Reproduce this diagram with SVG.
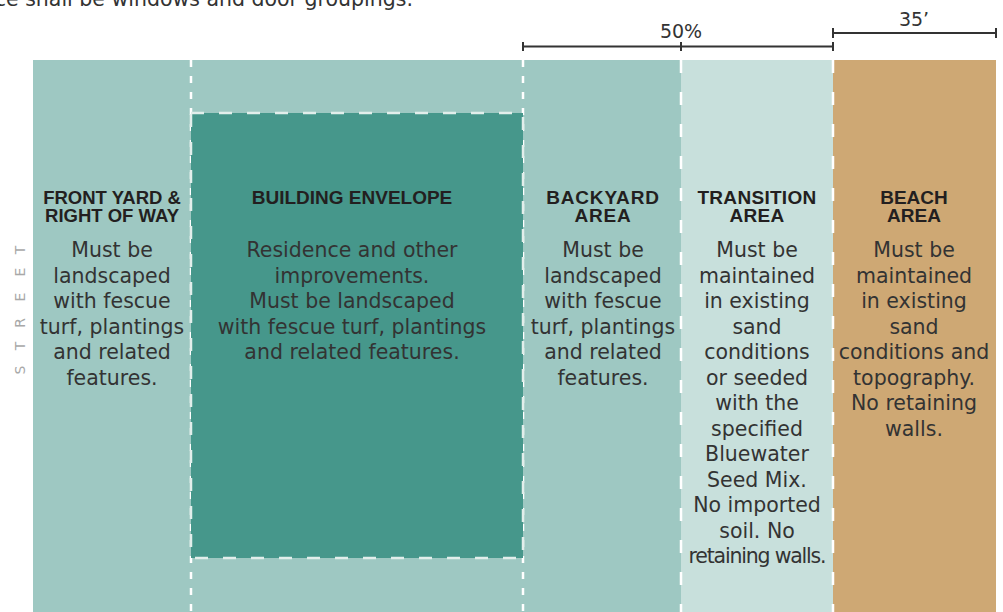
<svg xmlns="http://www.w3.org/2000/svg" width="1003" height="612" viewBox="0 0 1003 612">
<style>
.body{font-family:"DejaVu Sans",sans-serif;font-size:20.5px;fill:#333;text-anchor:middle}
.head{font-family:"Liberation Sans",Arial,sans-serif;font-weight:bold;font-size:19px;fill:#231f20;text-anchor:middle}
.dim{font-family:"DejaVu Sans",sans-serif;font-size:19px;fill:#333;text-anchor:middle}
.dl{stroke:#333;stroke-width:2;fill:none}
.vd1{stroke:#fff;stroke-width:2.5;stroke-dasharray:7 9;fill:none}
.vd2{stroke:#fff;stroke-width:2.5;stroke-dasharray:13 19;fill:none}
.street{font-family:"DejaVu Sans",sans-serif;font-size:14px;fill:#a8a8a8;text-anchor:middle}
</style>
<rect width="1003" height="612" fill="#fff"/>
<text class="body" x="413" y="6" style="text-anchor:end">ce shall be windows and door groupings.</text>
<g id="street">
<text class="street" transform="translate(25,0) rotate(-90)"><tspan x="-370">S</tspan><tspan x="-346">T</tspan><tspan x="-323">R</tspan><tspan x="-297">E</tspan><tspan x="-272">E</tspan><tspan x="-250">T</tspan></text>
</g>
<g id="front-yard">
<rect x="33" y="60" width="158" height="552" fill="#9ec8c2"/>
<text class="head" style="font-size:18.5px"><tspan x="112" y="204">FRONT YARD &amp;</tspan><tspan x="112" y="222">RIGHT OF WAY</tspan></text>
<text class="body"><tspan x="112" y="257">Must be</tspan><tspan x="112" y="283">landscaped</tspan><tspan x="112" y="308">with fescue</tspan><tspan x="112" y="334">turf, plantings</tspan><tspan x="112" y="359">and related</tspan><tspan x="112" y="385">features.</tspan></text>
</g>
<g id="envelope-band">
<rect x="191" y="60" width="332" height="552" fill="#9ec8c2"/>
</g>
<g id="backyard">
<rect x="523" y="60" width="158" height="552" fill="#9ec8c2"/>
<text class="head" letter-spacing="0.8"><tspan x="603" y="204">BACKYARD</tspan><tspan x="603" y="222">AREA</tspan></text>
<text class="body"><tspan x="603" y="257">Must be</tspan><tspan x="603" y="283">landscaped</tspan><tspan x="603" y="308">with fescue</tspan><tspan x="603" y="334">turf, plantings</tspan><tspan x="603" y="359">and related</tspan><tspan x="603" y="385">features.</tspan></text>
</g>
<g id="transition">
<rect x="681" y="60" width="152" height="552" fill="#c8e0dc"/>
<text class="head" letter-spacing="0.3"><tspan x="757" y="204">TRANSITION</tspan><tspan x="757" y="222">AREA</tspan></text>
<text class="body"><tspan x="757" y="257">Must be</tspan><tspan x="757" y="283">maintained</tspan><tspan x="757" y="308">in existing</tspan><tspan x="757" y="334">sand</tspan><tspan x="757" y="359">conditions</tspan><tspan x="757" y="385">or seeded</tspan><tspan x="757" y="410">with the</tspan><tspan x="757" y="436">specified</tspan><tspan x="757" y="461">Bluewater</tspan><tspan x="757" y="487">Seed Mix.</tspan><tspan x="757" y="512">No imported</tspan><tspan x="757" y="538">soil. No</tspan><tspan x="757" y="563" letter-spacing="-1.2">retaining walls.</tspan></text>
</g>
<g id="beach">
<rect x="833" y="60" width="163" height="552" fill="#cea874"/>
<text class="head"><tspan x="914" y="204">BEACH</tspan><tspan x="914" y="222">AREA</tspan></text>
<text class="body"><tspan x="914" y="257">Must be</tspan><tspan x="914" y="283">maintained</tspan><tspan x="914" y="308">in existing</tspan><tspan x="914" y="334">sand</tspan><tspan x="914" y="359">conditions and</tspan><tspan x="914" y="385">topography.</tspan><tspan x="914" y="410">No retaining</tspan><tspan x="914" y="436">walls.</tspan></text>
</g>
<g id="connectors">
<line class="vd1" x1="191" y1="60" x2="191" y2="612"/>
<line class="vd1" x1="523" y1="60" x2="523" y2="612"/>
<line class="vd2" x1="681" y1="60" x2="681" y2="612"/>
<line class="vd2" x1="833" y1="60" x2="833" y2="612"/>
<path class="dl" d="M523 46.5H833M523 42V51M681 42V51M833 42V51"/>
<path class="dl" d="M833 33H996M833 28V38M996 28V38"/>
</g>
<g id="building-envelope">
<rect x="191" y="113" width="332" height="445" fill="#46978b" stroke="#e2eeeb" stroke-width="2.5" stroke-dasharray="13 15"/>
<text class="head" x="352" y="204">BUILDING ENVELOPE</text>
<text class="body"><tspan x="352" y="257">Residence and other</tspan><tspan x="352" y="283">improvements.</tspan><tspan x="352" y="308">Must be landscaped</tspan><tspan x="352" y="334">with fescue turf, plantings</tspan><tspan x="352" y="359">and related features.</tspan></text>
</g>
<g id="dimensions">
<text class="dim" x="681" y="38">50%</text>
<text class="dim" x="914" y="26">35’</text>
</g>
</svg>
